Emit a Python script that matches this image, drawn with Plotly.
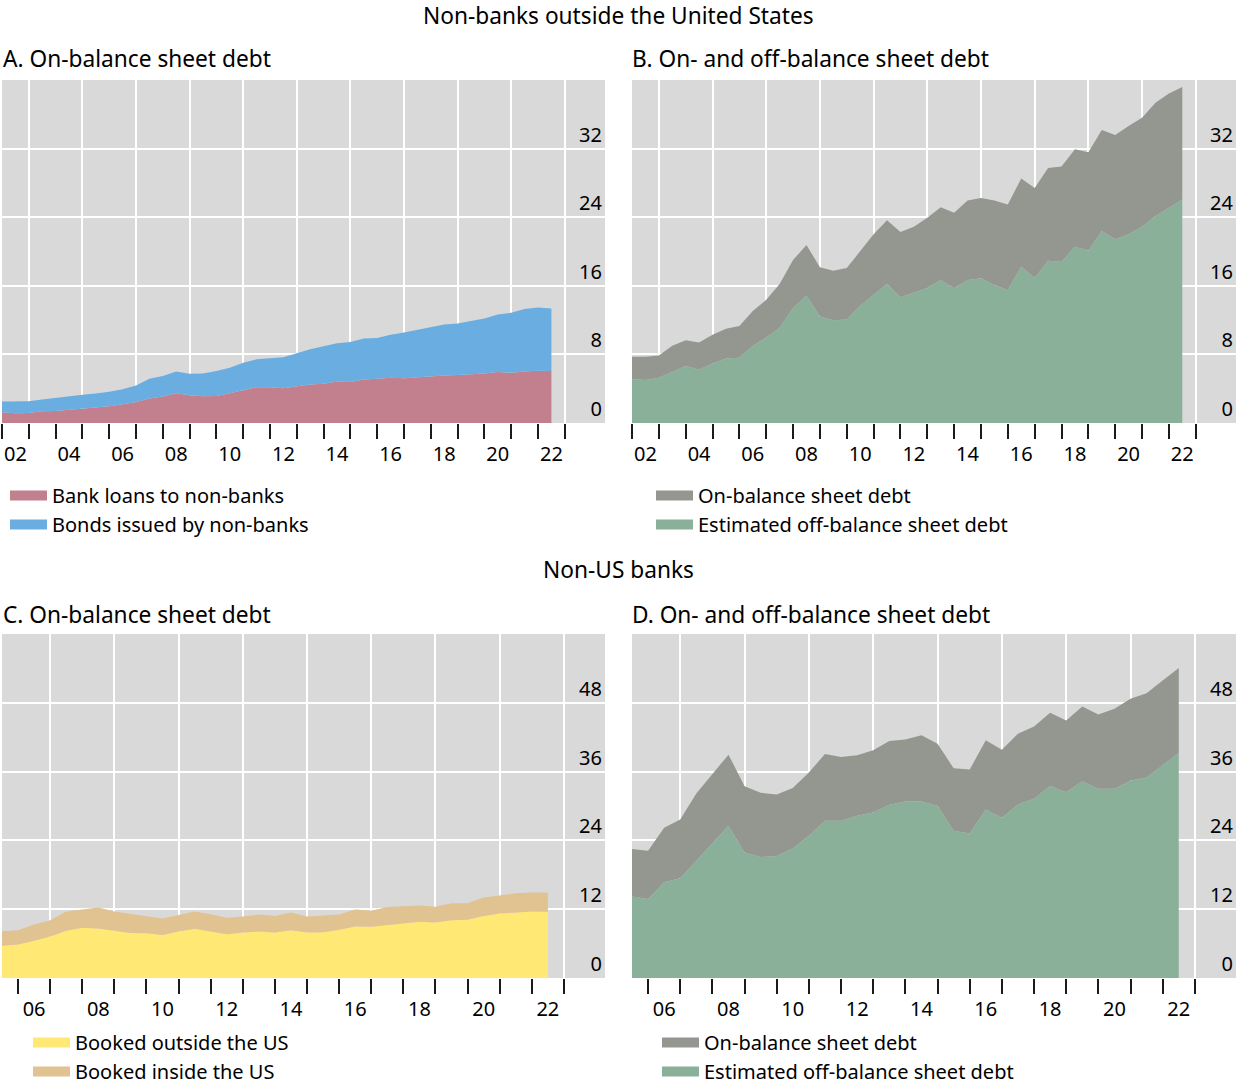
import plotly.graph_objects as go

# ---------------- data (USD trn, semi-annual) ----------------
periods_ab = [2002.0 + 0.5 * i for i in range(42)]   # semi-annual positions, panels A/B
periods_cd = [2005.5 + 0.5 * i for i in range(35)]   # semi-annual positions, panels C/D

# Panel A: non-banks outside the US, on-balance sheet
bank_loans_nb = [1.25, 1.13, 1.17, 1.37, 1.40, 1.52, 1.64, 1.80, 1.95, 2.20, 2.46, 2.85, 3.09, 3.48,
                 3.24, 3.13, 3.16, 3.48, 3.83, 4.18, 4.18, 4.06, 4.30, 4.49, 4.57, 4.84, 4.77, 5.08,
                 5.16, 5.27, 5.23, 5.35, 5.39, 5.55, 5.59, 5.66, 5.78, 5.94, 5.86, 6.00, 6.10, 6.05]
bonds_nb = [1.25, 1.41, 1.37, 1.36, 1.53, 1.61, 1.64, 1.64, 1.68, 1.75, 1.92, 2.31, 2.38, 2.54,
            2.50, 2.65, 2.89, 2.97, 3.20, 3.24, 3.40, 3.60, 3.83, 4.10, 4.38, 4.46, 4.68, 4.76,
            4.76, 5.03, 5.32, 5.51, 5.78, 5.93, 6.01, 6.22, 6.41, 6.72, 6.99, 7.28, 7.38, 7.31]

# Panel B: non-banks, on- and off-balance sheet
off_bal_nb = [5.14, 5.02, 5.29, 5.98, 6.64, 6.25, 6.95, 7.53, 7.60, 9.00, 9.96, 11.12, 13.40, 14.86,
              12.43, 11.97, 12.08, 13.67, 14.98, 16.22, 14.67, 15.17, 15.75, 16.68, 15.71, 16.68, 16.87, 16.10,
              15.52, 18.26, 16.91, 18.92, 18.80, 20.54, 20.08, 22.39, 21.43, 22.00, 22.90, 24.13, 25.10, 26.06]
on_bal_nb = [2.58, 2.70, 2.59, 3.02, 3.01, 3.13, 3.35, 3.47, 3.71, 4.05, 4.40, 5.10, 5.60, 5.91,
             5.72, 5.79, 5.99, 6.41, 7.02, 7.41, 7.61, 7.73, 8.19, 8.49, 8.81, 9.27, 9.38, 9.85,
             9.96, 10.24, 10.50, 10.81, 11.12, 11.39, 11.50, 11.78, 12.16, 12.63, 12.70, 13.21, 13.32, 13.13]

# Panel C: non-US banks, on-balance sheet
booked_outside = [5.62, 5.86, 6.50, 7.22, 8.22, 8.76, 8.64, 8.22, 7.87, 7.81, 7.51, 8.10, 8.58, 8.10,
                  7.63, 7.93, 8.10, 7.93, 8.34, 7.93, 7.99, 8.40, 8.99, 8.93, 9.23, 9.59, 9.82, 9.70,
                  10.06, 10.18, 10.83, 11.24, 11.48, 11.60, 11.54]
booked_inside = [2.55, 2.48, 2.85, 2.84, 3.38, 3.25, 3.67, 3.38, 3.37, 2.96, 2.85, 2.85, 3.02, 3.02,
                 2.90, 2.78, 2.97, 2.90, 3.08, 2.78, 2.96, 2.67, 2.96, 2.79, 3.14, 2.95, 2.84, 2.73,
                 2.96, 2.84, 3.19, 3.14, 3.31, 3.31, 3.31]

# Panel D: non-US banks, on- and off-balance sheet
off_bal_b = [14.20, 13.80, 16.70, 17.39, 20.46, 23.59, 26.55, 21.91, 21.10, 21.28, 22.61, 24.81, 27.42, 27.42,
             28.29, 28.87, 30.20, 30.78, 30.78, 30.03, 25.68, 25.22, 29.39, 27.94, 30.26, 31.25, 33.51, 32.41,
             34.32, 32.99, 32.99, 34.43, 34.96, 37.10, 39.30]
on_bal_b = [8.29, 8.40, 9.50, 10.26, 11.71, 12.06, 12.41, 11.54, 11.19, 10.72, 10.55, 11.02, 11.65, 11.13,
            10.55, 10.84, 11.13, 10.84, 11.54, 10.84, 10.90, 11.13, 12.06, 11.89, 12.35, 12.63, 12.75, 12.52,
            13.04, 12.98, 13.97, 14.27, 14.72, 14.78, 14.79]

label_years_ab = [2002, 2004, 2006, 2008, 2010, 2012, 2014, 2016, 2018, 2020, 2022]
label_years_cd = [2006, 2008, 2010, 2012, 2014, 2016, 2018, 2020, 2022]
yticks_ab = [0, 8, 16, 24, 32]
yticks_cd = [0, 12, 24, 36, 48]

# ---------------- styles ----------------
FONT = "Noto Sans"
C_RED = "#C27F8E"
C_BLUE = "#6AADE0"
C_GREY = "#93978F"
C_GREEN = "#8AB09A"
C_YELLOW = "#FFE873"
C_TAN = "#E1C291"
BG = "#D9D9D9"
TICKC = "#1a1a1a"

W, H = 1236, 1088

def px_y(p):
    return 1 - p / H

def px_x(p):
    return p / W

fig = go.Figure()

panels = [
    dict(n="", xd=[px_x(2), px_x(605)], yd=[px_y(423), px_y(80)], xr=[2002.0, 2024.5], yr=[0, 40],
         yt=yticks_ab, x=periods_ab, labels=label_years_ab, first=2002, leg="legend",
         series=[("Bank loans to non-banks", bank_loans_nb, C_RED), ("Bonds issued by non-banks", bonds_nb, C_BLUE)]),
    dict(n="2", xd=[px_x(632), 1.0], yd=[px_y(423), px_y(80)], xr=[2002.0, 2024.5], yr=[0, 40],
         yt=yticks_ab, x=periods_ab, labels=label_years_ab, first=2002, leg="legend2",
         series=[("Estimated off-balance sheet debt", off_bal_nb, C_GREEN), ("On-balance sheet debt", on_bal_nb, C_GREY)]),
    dict(n="3", xd=[px_x(2), px_x(605)], yd=[px_y(978), px_y(634)], xr=[2005.5, 2024.28], yr=[0, 60],
         yt=yticks_cd, x=periods_cd, labels=label_years_cd, first=2006, leg="legend3",
         series=[("Booked outside the US", booked_outside, C_YELLOW), ("Booked inside the US", booked_inside, C_TAN)]),
    dict(n="4", xd=[px_x(632), 1.0], yd=[px_y(978), px_y(634)], xr=[2005.5, 2024.28], yr=[0, 60],
         yt=yticks_cd, x=periods_cd, labels=label_years_cd, first=2006, leg="legend4",
         series=[("Estimated off-balance sheet debt", off_bal_b, C_GREEN), ("On-balance sheet debt", on_bal_b, C_GREY)]),
]

layout_axes = {}
for i, p in enumerate(panels):
    n = p["n"]
    xa, ya = "x" + n, "y" + n
    ov_n = str(5 + i)
    xov = "x" + ov_n
    for name, vals, col in p["series"]:
        fig.add_trace(go.Scatter(
            x=p["x"], y=vals, xaxis=xa, yaxis=ya, stackgroup="s" + str(i),
            mode="lines", line=dict(width=0), fillcolor=col, showlegend=False,
            name=name, hoverinfo="x+y+name"))
        # legend proxy (no visible mark on the plot); lives on the label axis
        fig.add_trace(go.Scatter(
            x=[None], y=[None], xaxis=xov, yaxis=ya, mode="lines",
            line=dict(color=col, width=14), name=name, legend=p["leg"], showlegend=True,
            hoverinfo="skip"))

    years_all = list(range(p["first"], 2024))
    odd = [y for y in years_all if y % 2 == 1]
    even = [y for y in years_all if y % 2 == 0]
    layout_axes["xaxis" + n] = dict(
        domain=p["xd"], anchor=ya, range=p["xr"], tickvals=odd, ticks="outside", ticklen=15,
        tickwidth=1.5, tickcolor=TICKC, showticklabels=False, showgrid=True, gridcolor="white",
        gridwidth=2, zeroline=False, showline=False, fixedrange=True,
        minor=dict(tickvals=even, ticks="outside", ticklen=15, tickwidth=1.5, tickcolor=TICKC, showgrid=False))
    layout_axes["xaxis" + ov_n] = dict(
        overlaying=xa, anchor=ya, side="bottom", range=p["xr"], visible=True,
        tickmode="array",
        tickvals=[y + 0.5 for y in p["labels"]], ticktext=["%02d" % (y % 100) for y in p["labels"]],
        ticks="outside", ticklen=13, tickcolor="rgba(0,0,0,0)", showgrid=False, zeroline=False,
        showline=False, showticklabels=True,
        tickfont=dict(size=20, color="black", family=FONT), fixedrange=True)
    layout_axes["yaxis" + n] = dict(
        domain=p["yd"], anchor=xa, range=p["yr"], tickvals=p["yt"], side="right",
        ticklabelposition="inside", ticks="", ticklabelshift=-14, ticklabelstandoff=0,
        showgrid=True, gridcolor="white", gridwidth=2, zeroline=False, showline=False,
        tickfont=dict(size=20, color="black", family=FONT), fixedrange=True)

legend_common = dict(xanchor="left", yanchor="top", bgcolor="rgba(0,0,0,0)", borderwidth=0,
                     font=dict(size=20, color="black", family=FONT), itemwidth=37, tracegroupgap=0,
                     itemclick=False, itemdoubleclick=False)
legends = dict(
    legend=dict(x=px_x(5), y=px_y(476), traceorder="normal", **legend_common),
    legend2=dict(x=px_x(651), y=px_y(476), traceorder="reversed", **legend_common),
    legend3=dict(x=px_x(28), y=px_y(1023), traceorder="normal", **legend_common),
    legend4=dict(x=px_x(657), y=px_y(1023), traceorder="reversed", **legend_common),
)

annotations = [
    dict(text="Non-banks outside the United States", x=0.5, y=px_y(16), xanchor="center"),
    dict(text="A. On-balance sheet debt", x=px_x(1), y=px_y(59), xanchor="left"),
    dict(text="B. On- and off-balance sheet debt", x=px_x(630), y=px_y(59), xanchor="left"),
    dict(text="Non-US banks", x=0.5, y=px_y(569), xanchor="center"),
    dict(text="C. On-balance sheet debt", x=px_x(1), y=px_y(614), xanchor="left"),
    dict(text="D. On- and off-balance sheet debt", x=px_x(630), y=px_y(614), xanchor="left"),
]
for a in annotations:
    a.update(xref="paper", yref="paper", yanchor="middle", showarrow=False,
             font=dict(size=22.7, color="black", family=FONT))

fig.update_layout(
    width=W, height=H, margin=dict(l=0, r=0, t=0, b=0, autoexpand=False),
    paper_bgcolor="white", plot_bgcolor=BG,
    font=dict(family=FONT, size=20, color="black"),
    annotations=annotations, hovermode="closest",
    **layout_axes, **legends)

fig.write_html("out.html", config={"displayModeBar": False},
               post_script="document.body.style.margin='0px';document.body.style.overflow='hidden';")
